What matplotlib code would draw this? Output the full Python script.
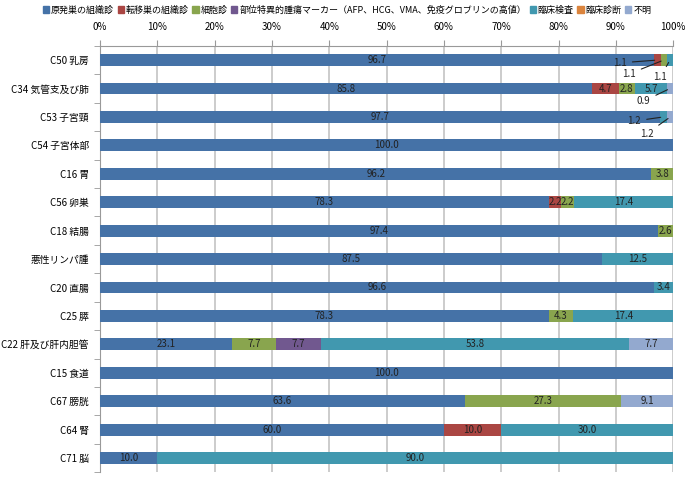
import matplotlib
matplotlib.use("Agg")
import matplotlib.pyplot as plt
from matplotlib.patches import Patch
import numpy as np

plt.rcParams["font.family"] = ["Noto Sans CJK JP", "DejaVu Sans"]

# data: share of each diagnostic basis (%) per site
sites = ["C50 乳房", "C34 気管支及び肺", "C53 子宮頸", "C54 子宮体部", "C16 胃", "C56 卵巣",
         "C18 結腸", "悪性リンパ腫", "C20 直腸", "C25 膵", "C22 肝及び肝内胆管", "C15 食道",
         "C67 膀胱", "C64 腎", "C71 脳"]
series = ["原発巣の組織診", "転移巣の組織診", "細胞診",
          "部位特異的腫瘍マーカー（AFP、HCG、VMA、免疫グロブリンの高値）",
          "臨床検査", "臨床診断", "不明"]
primary   = [96.7, 85.8, 97.7, 100.0, 96.2, 78.3, 97.4, 87.5, 96.6, 78.3, 23.1, 100.0, 63.6, 60.0, 10.0]
metastat  = [1.1, 4.7, 0, 0, 0, 2.2, 0, 0, 0, 0, 0, 0, 0, 10.0, 0]
cytology  = [1.1, 2.8, 0, 0, 3.8, 2.2, 2.6, 0, 0, 4.3, 7.7, 0, 27.3, 0, 0]
marker    = [0, 0, 0, 0, 0, 0, 0, 0, 0, 0, 7.7, 0, 0, 0, 0]
clin_test = [1.1, 5.7, 1.2, 0, 0, 17.4, 0, 12.5, 3.4, 17.4, 53.8, 0, 0, 30.0, 90.0]
clin_diag = [0, 0, 0, 0, 0, 0, 0, 0, 0, 0, 0, 0, 0, 0, 0]
unknown   = [0, 0.9, 1.2, 0, 0, 0, 0, 0, 0, 0, 7.7, 0, 9.1, 0, 0]

COLORS = ["#4572A7", "#AA4643", "#89A54E", "#71588F", "#4198AF", "#DB843D", "#93A9CF"]
# small segments labelled with leader lines: (row, series index) -> text offset in points
CALLOUTS = {(0, 1): (-22, -2), (0, 2): (-20, -10), (0, 4): (-2, -12),
            (1, 6): (-14, -9), (2, 4): (-16, -3), (2, 6): (-12, -12)}

fig = plt.figure(figsize=(6.94, 5.04), dpi=100)
ax = fig.add_axes([0.144, 0.063, 0.826, 0.846])

data = np.array([primary, metastat, cytology, marker, clin_test, clin_diag, unknown])
y = np.arange(len(sites))
left = np.zeros(len(sites))
for k, vals in enumerate(data):
    ax.barh(y, vals, left=left, height=0.42, color=COLORS[k], zorder=3)
    for i, v in enumerate(vals):
        if v <= 0:
            continue
        cx = left[i] + v / 2
        if (i, k) in CALLOUTS:
            ax.annotate(f"{v:.1f}", xy=(cx, y[i]), xytext=CALLOUTS[(i, k)],
                        textcoords="offset points", ha="right", va="center", fontsize=7,
                        color="#222", arrowprops=dict(arrowstyle="-", color="#222", lw=0.8),
                        zorder=5)
        else:
            ax.text(cx, y[i], f"{v:.1f}", ha="center", va="center", fontsize=7,
                    color="#222", zorder=4)
    left += vals

ax.set_xlim(0, 100)
ax.set_ylim(len(sites) - 0.5, -0.5)
ax.xaxis.tick_top()
ax.set_xticks(np.arange(0, 101, 10))
ax.set_xticklabels([f"{t}%" for t in range(0, 101, 10)], fontsize=7)
ax.set_yticks(y)
ax.set_yticklabels(sites, fontsize=7)
ax.set_yticks(np.arange(-0.5, len(sites), 1), minor=True)
ax.tick_params(axis="y", which="major", length=0, pad=8)
ax.tick_params(axis="y", which="minor", length=4, color="#999")
ax.tick_params(axis="x", length=4, color="#999", pad=6)
ax.grid(axis="x", color="#C8C8C8", lw=1.3, zorder=0)
for s in ("right", "bottom"):
    ax.spines[s].set_visible(False)
for s in ("left", "top"):
    ax.spines[s].set_color("#999")

handles = [Patch(color=c) for c in COLORS]
fig.legend(handles, series, loc="upper center", bbox_to_anchor=(0.5, 1.005), ncol=7,
           frameon=False, fontsize=6.5, handlelength=0.7, handleheight=0.7,
           handletextpad=0.2, columnspacing=0.4)

fig.savefig("out.png", dpi=100)
